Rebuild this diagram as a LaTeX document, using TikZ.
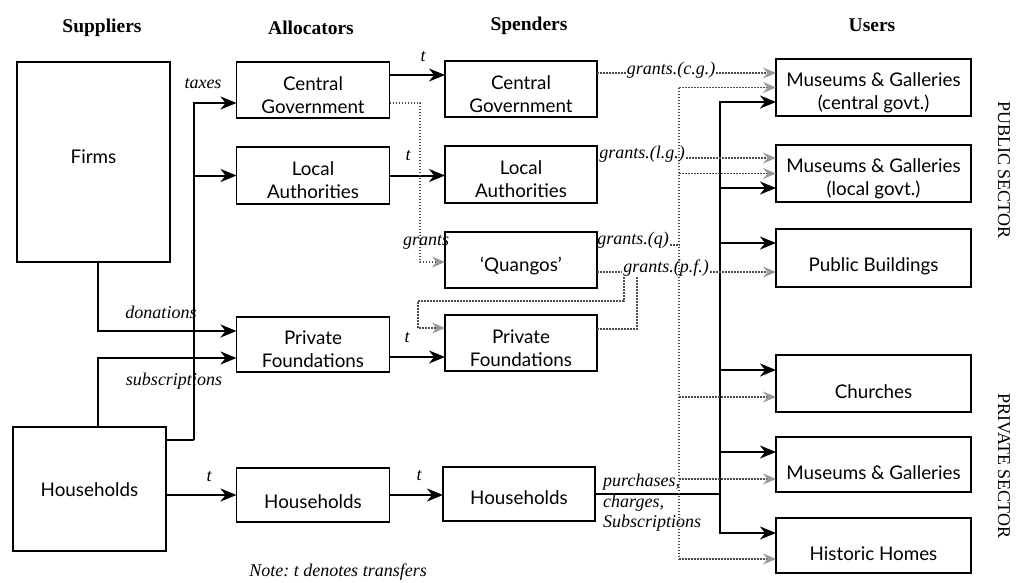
\documentclass[tikz,border=0pt]{standalone}
\usepackage{fontspec}
\setmainfont{Liberation Serif}
\newfontfamily\boxfont{Lato}
\usetikzlibrary{arrows.meta}
\frenchspacing
\begin{document}
\begin{tikzpicture}[x=1pt,y=-1pt,
  box/.style={draw, line width=1.3pt, inner sep=0pt, outer sep=0pt},
  btext/.style={font=\boxfont\fontsize{18.8}{23}\selectfont, align=center, inner sep=0pt},
  head/.style={font=\bfseries\fontsize{19.5}{22}\selectfont},
  lab/.style={font=\itshape\fontsize{18}{20.5}\selectfont, inner sep=1pt},
  sline/.style={line width=2pt},
  sarr/.style={sline, -{Stealth[length=16pt,width=13pt,inset=5pt]}},
  gline/.style={line width=1.1pt, black!70, dash pattern=on 1.6pt off 1.4pt},
  garr/.style={gline, -{Stealth[length=13pt,width=11pt,inset=4.5pt,color=black!40]}},
  side/.style={font=\fontsize{18}{20}\selectfont, rotate=-90},
]
\useasboundingbox (0,0) rectangle (1016,582);

% headers
\node[head] (h1) at (102,28) {Suppliers};
\node[head] (h2) at (311,28) {Allocators};
\node[head] (h3) at (529,26) {Spenders};
\node[head] (h4) at (872,25) {Users};

% suppliers
\node[box, minimum width=153pt, minimum height=200pt] (firms) at (93.5,162) {};
\node[btext] (firmsT) at ([yshift=5pt]firms.center) {Firms};
\node[box, minimum width=153pt, minimum height=124pt] (hh1) at (89.5,489) {};
\node[btext] (hh1T) at ([yshift=-1pt]hh1.center) {Households};

% allocators
\node[box, minimum width=153pt, minimum height=56pt] (acg) at (313,90) {};
\node[btext] (acgT) at ([yshift=-5pt]acg.center) {Central\\Government};
\node[box, minimum width=153pt, minimum height=57pt] (ala) at (313,175.5) {};
\node[btext] (alaT) at ([yshift=-5pt]ala.center) {Local\\Authorities};
\node[box, minimum width=153pt, minimum height=55pt] (apf) at (313,344.5) {};
\node[btext] (apfT) at ([yshift=-5pt]apf.center) {Private\\Foundations};
\node[box, minimum width=153pt, minimum height=54pt] (ahh) at (313,495) {};
\node[btext] (ahhT) at ([yshift=-7pt]ahh.center) {Households};

% spenders
\node[box, minimum width=152pt, minimum height=56pt] (scg) at (521,89) {};
\node[btext] (scgT) at ([yshift=-5pt]scg.center) {Central\\Government};
\node[box, minimum width=152pt, minimum height=57pt] (sla) at (521,174.5) {};
\node[btext] (slaT) at ([yshift=-5pt]sla.center) {Local\\Authorities};
\node[box, minimum width=152pt, minimum height=56pt] (sq) at (521,260) {};
\node[btext] (sqT) at ([yshift=-6pt]sq.center) {‘Quangos’};
\node[box, minimum width=152pt, minimum height=56pt] (spf) at (521,343) {};
\node[btext] (spfT) at ([yshift=-5pt]spf.center) {Private\\Foundations};
\node[box, minimum width=152pt, minimum height=54pt] (shh) at (519,494) {};
\node[btext] (shhT) at ([yshift=-4pt]shh.center) {Households};

% users
\node[box, minimum width=195pt, minimum height=57pt] (u1) at (873.5,87.5) {};
\node[btext] (u1T) at ([yshift=-5pt]u1.center) {Museums \& Galleries\\(central govt.)};
\node[box, minimum width=195pt, minimum height=57pt] (u2) at (873.5,173.5) {};
\node[btext] (u2T) at ([yshift=-5pt]u2.center) {Museums \& Galleries\\(local govt.)};
\node[box, minimum width=195pt, minimum height=58pt] (u3) at (873.5,258) {};
\node[btext] (u3T) at ([yshift=-8pt]u3.center) {Public Buildings};
\node[box, minimum width=195pt, minimum height=57pt] (u4) at (873.5,383.5) {};
\node[btext] (u4T) at ([yshift=-8pt]u4.center) {Churches};
\node[box, minimum width=195pt, minimum height=55pt] (u5) at (873.5,464.5) {};
\node[btext] (u5T) at ([yshift=-8pt]u5.center) {Museums \& Galleries};
\node[box, minimum width=195pt, minimum height=55pt] (u6) at (873.5,545.5) {};
\node[btext] (u6T) at ([yshift=-8pt]u6.center) {Historic Homes};

% side labels
\node[side] (pub) at (1004,170) {PUBLIC SECTOR};
\node[side] (priv) at (1004,466) {PRIVATE SECTOR};

% taxes
\coordinate (tx) at (194,440);
\draw[sline] (hh1.east |- tx) -- (tx);
\draw[sarr] (tx) |- ([yshift=-13pt]acg.west);
\draw[sarr] (tx |- ala.west) -- (ala.west);
\node[lab] (ltax) at (203,84) {taxes};

% donations / subscriptions
\coordinate (dn) at (98,331);
\coordinate (don) at ([yshift=13.5pt]apf.west);
\coordinate (sub) at ([yshift=-13.5pt]apf.west);
\draw[sarr] (firms.south -| dn) |- (don);
\draw[sarr] (hh1.north -| dn) |- (sub);
\node[lab] (ldon) at (161,312) {donations};
\node[lab] (lsub) at (174,381) {subscriptions};

% transfers
\coordinate (t1) at ([yshift=15pt]acg.east);
\draw[sarr] (t1) -- (t1 -| scg.west);
\draw[sarr] (ala.east) -- (ala.east -| sla.west);
\coordinate (t3) at ([yshift=-12.5pt]apf.east);
\draw[sarr] (t3) -- (t3 -| spf.west);
\draw[sarr] (ahh.east) -- (ahh.east -| shh.west);
\draw[sarr] (hh1.east |- ahh.west) -- (ahh.west);
\node[lab] (lt1) at (423,57) {t};
\node[lab] (lt2) at (408,156) {t};
\node[lab] (lt3) at (407,338) {t};
\node[lab] (lt4) at (419,476) {t};
\node[lab] (lt5) at (209,477) {t};

% solid bus to users
\coordinate (sb) at (720,493);
\coordinate (u1s) at ([yshift=-14.5pt]u1.west);
\coordinate (u2s) at ([yshift=-14.5pt]u2.west);
\coordinate (u3s) at ([yshift=15pt]u3.west);
\coordinate (u4s) at ([yshift=13.5pt]u4.west);
\coordinate (u5s) at ([yshift=12.5pt]u5.west);
\coordinate (u6s) at ([yshift=12.5pt]u6.west);
\draw[sline] (shh.east) -- (shh.east -| sb);
\draw[sline, line cap=rect] (u1s -| sb) -- (u6s -| sb);
\foreach \p in {u1s,u2s,u3s,u4s,u5s,u6s} \draw[sarr] (\p -| sb) -- (\p);
\node[lab, align=left, anchor=north west, inner sep=0pt] (lpur) at (603,474) {purchases,\\charges,\\Subscriptions};

% grey dotted bus
\coordinate (gb) at (679,300);
\coordinate (u1a) at ([yshift=14.5pt]u1.west);
\coordinate (u2a) at ([yshift=15.5pt]u2.west);
\coordinate (u3g) at ([yshift=-14pt]u3.west);
\coordinate (u4g) at ([yshift=-13.5pt]u4.west);
\coordinate (u5g) at ([yshift=-14.5pt]u5.west);
\coordinate (u6g) at ([yshift=-13.5pt]u6.west);
\draw[gline] (u1.west -| gb) -- (u6g -| gb);
\foreach \p in {u1.west,u2.west,u4g,u5g,u6g} \draw[garr] (\p -| gb) -- (\p);

% grants c.g. and l.g.
\node[lab] (gcg) at (671,70) {grants.(c.g.)};
\draw[gline] (scg.east |- u1a) -- (gcg.west |- u1a);
\draw[garr] (gcg.east |- u1a) -- (u1a);
\node[lab] (gl) at (642,154) {grants.(l.g.)};
\draw[garr] (gl.east |- u2a) -- (u2a);

% grants q
\node[lab] (gq) at (633,240) {grants.(q)};
\coordinate (gqe) at ([yshift=-5pt]gq.east);
\draw[gline] (gqe) -- (gqe -| gb);

% grants p.f.
\node[lab] (gpf) at (666,268) {grants.(p.f.)};
\draw[gline] (sq.east |- u3g) -- (gpf.west |- u3g);
\draw[garr] (gpf.east |- u3g) -- (u3g);
\coordinate (j1) at (624,277);
\coordinate (j2) at (637,277);
\coordinate (qpf) at (418,301);
\coordinate (pfin) at ([yshift=15pt]spf.west);
\draw[garr] (j1) |- (qpf) |- (pfin);
\coordinate (pfout) at ([yshift=14pt]spf.east);
\draw[gline] (pfout) -| (j2);

% grants from central government allocator to quangos
\coordinate (cgo) at ([yshift=-13pt]acg.east);
\coordinate (gv) at (420,262);
\draw[garr] (cgo) -| (gv) -- (gv -| sq.west);
\node[lab] (gr) at (426,242) {grants};

% note
\node[lab] (note) at (338,572) {Note: t denotes transfers};
\end{tikzpicture}
\end{document}
